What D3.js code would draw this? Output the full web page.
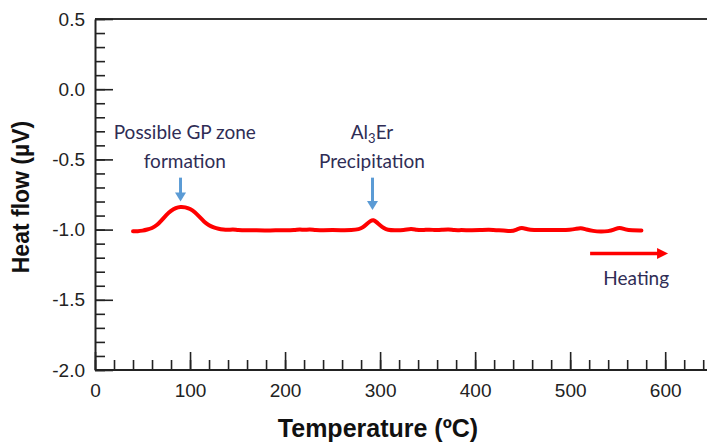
<!DOCTYPE html>
<html>
<head>
<meta charset="utf-8">
<script src="https://cdn.jsdelivr.net/npm/d3@7"></script>
<style>
  html, body { margin: 0; padding: 0; background: #fff; }
  svg { display: block; }
</style>
</head>
<body>
<svg id="chart" width="707" height="442"></svg>
<script>
// ---- data ----
const temperature = [40,45,50,55,60,65,70,75,80,85,90,95,100,105,110,115,120,125,130,135,140,145,150,160,170,180,190,200,210,216,220,226,232,240,250,260,270,278,282,286,290,293,296,300,304,308,315,325,333,338,345,352,358,365,372,378,385,395,405,415,422,430,437,444,449,455,462,470,480,490,500,506,511,517,524,532,540,546,552,558,565,575];
const heatFlow    = [-1.012,-1.012,-1.008,-1.0,-0.99,-0.97,-0.935,-0.895,-0.865,-0.845,-0.837,-0.84,-0.852,-0.875,-0.91,-0.945,-0.97,-0.985,-0.995,-1.0,-1.003,-0.997,-1.003,-1.005,-1.005,-1.006,-1.005,-1.005,-1.004,-0.998,-1.004,-0.997,-1.005,-1.004,-1.003,-1.004,-1.004,-0.998,-0.985,-0.96,-0.937,-0.93,-0.945,-0.97,-0.99,-1.002,-1.005,-1.004,-0.993,-1.002,-1.005,-0.998,-1.005,-1.002,-0.996,-1.005,-1.003,-1.005,-1.004,-1.0,-1.006,-1.004,-1.015,-1.0,-0.983,-1.0,-1.003,-1.002,-1.002,-1.003,-1.002,-0.995,-0.986,-1.0,-1.01,-1.015,-1.012,-1.002,-0.982,-1.0,-1.006,-1.006];

const xMajorTicks = [0,100,200,300,400,500,600];
const xTickLabels = ["0","100","200","300","400","500","600"];
const xMinorTicks = d3.range(0, 641, 20);
const yMajorTicks = [-2.0,-1.5,-1.0,-0.5,0.0,0.5];
const yTickLabels = ["-2.0","-1.5","-1.0","-0.5","0.0","0.5"];
const yMinorTicks = d3.range(-20, 6, 1).map(d => d / 10);

const xTitle = "Temperature (ºC)";
const yTitle = "Heat flow (µV)";

// annotations (data coordinates)
const annoT      = [90, 292];          // arrow x (temperature)
const annoTop    = [-0.63, -0.63];     // arrow tail
const annoTip    = [-0.80, -0.86];     // arrow tip
const annoTextT  = [94.5, 291.5];
const annoLine1  = ["Possible GP zone", "Al|3|Er"];
const annoLine2  = ["formation", "Precipitation"];
const annoLine1V = -0.358, annoLine2V = -0.561;

const heatArrowT = [521, 603], heatArrowV = -1.17;
const heatTextT = 569.5, heatTextV = -1.395, heatLabel = "Heating";

// ---- layout ----
const svg = d3.select("#chart");
const x = d3.scaleLinear().domain([0, 644]).range([95, 707]);
const y = d3.scaleLinear().domain([-2.0, 0.5]).range([370, 19]);
const axisColor = "#222";

// top frame line
svg.append("line")
  .attr("x1", x(0)).attr("x2", 707).attr("y1", y(0.5)).attr("y2", y(0.5))
  .attr("stroke", "#333").attr("stroke-width", 2);

// minor ticks x
svg.append("g").attr("transform", `translate(0,${y(-2)})`)
  .call(d3.axisBottom(x).tickValues(xMinorTicks).tickSize(-10).tickSizeOuter(0).tickFormat(""))
  .call(g => g.select(".domain").remove())
  .call(g => g.selectAll("line").attr("stroke", axisColor).attr("stroke-width", 1.6));
// major x
const gx = svg.append("g").attr("transform", `translate(0,${y(-2)})`)
  .call(d3.axisBottom(x).tickValues(xMajorTicks).tickSize(-18).tickSizeOuter(0).tickPadding(14)
        .tickFormat((d, i) => xTickLabels[i]));
gx.select(".domain").attr("stroke", axisColor).attr("stroke-width", 2)
  .attr("d", `M${x(0)},0H707`);
gx.selectAll("line").attr("stroke", axisColor).attr("stroke-width", 1.6);
gx.selectAll("text").attr("font-family", "Liberation Sans, Arial, sans-serif")
  .attr("font-size", 19).attr("fill", "#222");

// minor y
svg.append("g").attr("transform", `translate(${x(0)},0)`)
  .call(d3.axisLeft(y).tickValues(yMinorTicks).tickSize(-10).tickSizeOuter(0).tickFormat(""))
  .call(g => g.select(".domain").remove())
  .call(g => g.selectAll("line").attr("stroke", axisColor).attr("stroke-width", 1.6));
const gy = svg.append("g").attr("transform", `translate(${x(0)},0)`)
  .call(d3.axisLeft(y).tickValues(yMajorTicks).tickSize(-18).tickSizeOuter(0).tickPadding(10)
        .tickFormat((d, i) => yTickLabels[i]));
gy.select(".domain").attr("stroke", axisColor).attr("stroke-width", 2);
gy.selectAll("line").attr("stroke", axisColor).attr("stroke-width", 1.6);
gy.selectAll("text").attr("font-family", "Liberation Sans, Arial, sans-serif")
  .attr("font-size", 19).attr("fill", "#222");

// axis titles
svg.append("text").attr("x", 378).attr("y", 437).attr("text-anchor", "middle")
  .attr("font-family", "Liberation Sans, Arial, sans-serif").attr("font-weight", "bold")
  .attr("font-size", 25).attr("fill", "#111").text(xTitle);
svg.append("text").attr("transform", "translate(29,197) rotate(-90)").attr("text-anchor", "middle")
  .attr("font-family", "Liberation Sans, Arial, sans-serif").attr("font-weight", "bold")
  .attr("font-size", 23).attr("fill", "#111").text(yTitle);

// curve
const pts = temperature.map((t, i) => [t, heatFlow[i]]);
svg.append("path").datum(pts)
  .attr("d", d3.line().x(d => x(d[0])).y(d => y(d[1])).curve(d3.curveBasis))
  .attr("fill", "none").attr("stroke", "#ff0000").attr("stroke-width", 4)
  .attr("stroke-linejoin", "round").attr("stroke-linecap", "round");

// blue arrows
const blue = "#5b9bd5";
annoT.forEach((t, i) => {
  const ax = x(t), y0 = y(annoTop[i]), y1 = y(annoTip[i]);
  svg.append("line").attr("x1", ax).attr("x2", ax).attr("y1", y0).attr("y2", y1 - 8)
    .attr("stroke", blue).attr("stroke-width", 3);
  svg.append("path").attr("d", `M${ax - 5.5},${y1 - 9}L${ax + 5.5},${y1 - 9}L${ax},${y1}Z`)
    .attr("fill", blue);
});

// annotation text
const annoFont = "Lato, 'Open Sans', sans-serif";
const annoColor = "#2f2d55";
annoTextT.forEach((t, i) => {
  const t1 = svg.append("text").attr("x", x(t)).attr("y", y(annoLine1V)).attr("text-anchor", "middle")
    .attr("font-family", annoFont).attr("font-size", 19).attr("fill", annoColor);
  const parts = annoLine1[i].split("|");
  if (parts.length === 3) {
    t1.append("tspan").text(parts[0]);
    t1.append("tspan").attr("font-size", 13).attr("dy", 4).text(parts[1]);
    t1.append("tspan").attr("dy", -4).text(parts[2]);
  } else {
    t1.text(parts[0]);
  }
  svg.append("text").attr("x", x(t)).attr("y", y(annoLine2V)).attr("text-anchor", "middle")
    .attr("font-family", annoFont).attr("font-size", 19).attr("fill", annoColor).text(annoLine2[i]);
});

// heating arrow
const hx0 = x(heatArrowT[0]), hx1 = x(heatArrowT[1]), hy = y(heatArrowV);
svg.append("line").attr("x1", hx0).attr("x2", hx1 - 9).attr("y1", hy).attr("y2", hy)
  .attr("stroke", "#ff0000").attr("stroke-width", 3.5);
svg.append("path").attr("d", `M${hx1 - 11},${hy - 5.5}L${hx1},${hy}L${hx1 - 11},${hy + 5.5}Z`)
  .attr("fill", "#ff0000");
svg.append("text").attr("x", x(heatTextT)).attr("y", y(heatTextV)).attr("text-anchor", "middle")
  .attr("font-family", annoFont).attr("font-size", 19).attr("fill", annoColor).text(heatLabel);
</script>
</body>
</html>
